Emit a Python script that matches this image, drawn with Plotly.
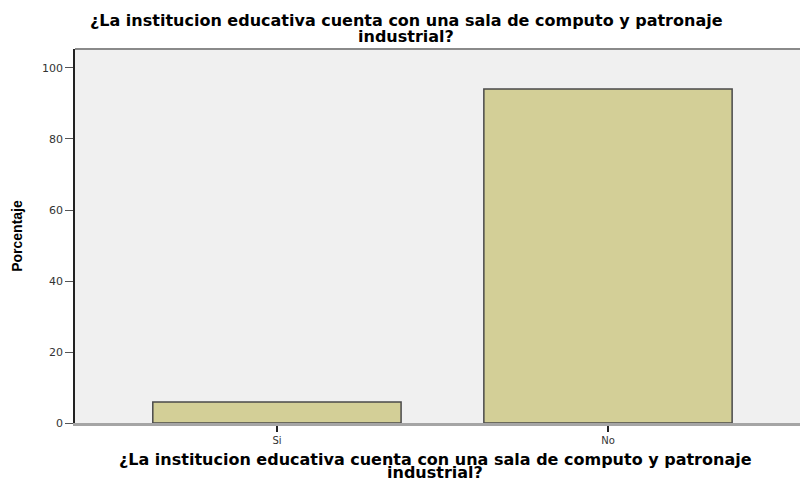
import plotly.graph_objects as go

categories = ["Si", "No"]
percentages = [5.9, 94.1]
y_ticks = [0, 20, 40, 60, 80, 100]

title_line1 = "¿La institucion educativa cuenta con una sala de computo y patronaje"
title_line2 = "industrial?"
y_title = "Porcentaje"

W, H = 800, 481
L, R, T, B = 75, 0, 49, 58
plot_w = W - L - R
plot_h = H - T - B


def px_x(px):
    return (px - L) / plot_w


def px_y(py):
    return (H - B - py) / plot_h


title_font = dict(family="DejaVu Sans", size=16, color="black", weight="bold")

fig = go.Figure(
    go.Bar(
        x=categories,
        y=percentages,
        width=0.75,
        marker=dict(color="#d3cf97", line=dict(color="#4a4a4a", width=1.5)),
        hoverinfo="x+y",
    )
)

annotations = []
for text, cx, cy in [
    (title_line1, 406, 21),
    (title_line2, 406, 36),
    (title_line1, 435, 459),
    (title_line2, 435, 472),
]:
    annotations.append(
        dict(
            text=text,
            xref="paper",
            yref="paper",
            x=px_x(cx),
            y=px_y(cy),
            xanchor="center",
            yanchor="middle",
            showarrow=False,
            font=title_font,
        )
    )

fig.update_layout(
    width=W,
    height=H,
    margin=dict(l=L, r=R, t=T, b=B, autoexpand=False),
    paper_bgcolor="white",
    plot_bgcolor="#f0f0f0",
    showlegend=False,
    annotations=annotations,
    shapes=[
        dict(
            type="line",
            xref="paper",
            yref="paper",
            x0=0,
            x1=1,
            y0=1,
            y1=1,
            line=dict(color="#8a8a8a", width=2),
        )
    ],
)

fig.update_xaxes(
    type="category",
    range=[-0.61, 1.58],
    automargin=False,
    showgrid=False,
    showline=True,
    linecolor="#a5a5a5",
    linewidth=3,
    ticks="outside",
    ticklen=6,
    tickcolor="#222",
    tickwidth=1.5,
    tickfont=dict(family="DejaVu Sans", size=10, color="#333"),
)

fig.update_yaxes(
    range=[0, 105.35],
    tickvals=y_ticks,
    automargin=False,
    showgrid=False,
    zeroline=False,
    showline=True,
    linecolor="#222",
    linewidth=1.5,
    ticks="outside",
    ticklen=8,
    tickcolor="#555",
    tickwidth=1,
    tickfont=dict(family="DejaVu Sans", size=11, color="#333"),
    title=dict(
        text=y_title,
        standoff=16,
        font=dict(family="Liberation Sans", size=14, color="black", weight="bold"),
    ),
)

fig.write_html(
    "out.html",
    config={"displayModeBar": False},
    post_script="document.body.style.margin='0';document.body.style.overflow='hidden';",
)
